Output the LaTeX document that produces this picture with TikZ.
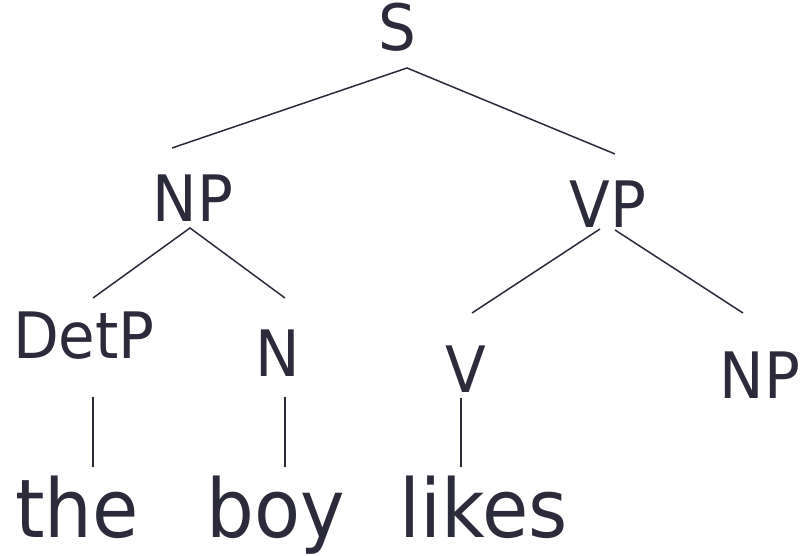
\documentclass[tikz,border=0pt]{standalone}
\usepackage{fontspec}
\newfontfamily\treefont[FakeStretch=0.93]{DejaVu Sans}
\definecolor{ink}{HTML}{2B2B3B}
\begin{document}
\begin{tikzpicture}[x=1pt,y=-1pt,
  cat/.style={anchor=base,inner sep=0pt,text=ink,font=\treefont\fontsize{64}{64}\selectfont},
  word/.style={anchor=base,inner sep=0pt,text=ink,font=\treefont\fontsize{81}{81}\selectfont},
  branch/.style={draw=ink,line width=1.5pt}]
\useasboundingbox (0,0) rectangle (804,556);
\node[cat] (S) at (397,51) {S};
\node[cat] (NP) at (193,222) {NP};
\node[cat] (VP) at (608,228) {VP};
\node[cat] (DetP) at (84,359) {DetP};
\node[cat] (N) at (278,377) {N};
\node[cat] (V) at (466,392) {V};
\node[cat] (NPb) at (760,398) {NP};
\node[word] (the) at (77,537) {the};
\node[word] (boy) at (276,537) {boy};
\node[word] (likes) at (484,537) {likes};
% connector end points
\coordinate (Sb) at (407,68);
\coordinate (NPt) at (172,148);
\coordinate (VPt) at (615,154);
\coordinate (NPbL) at (190,228);
\coordinate (DetPt) at (93,298);
\coordinate (Nt) at (285,298);
\coordinate (VPbL) at (600,229);
\coordinate (VPbR) at (615,230);
\coordinate (Vt) at (472,313);
\coordinate (NPbt) at (743,313);
\coordinate (DetPb) at (93,397);
\coordinate (thet) at (93,467);
\coordinate (Nb) at (285,397);
\coordinate (boyt) at (285,467);
\coordinate (Vb) at (461,398);
\coordinate (likest) at (461,467);
\draw[branch] (NPt) -- (Sb) -- (VPt);
\draw[branch] (DetPt) -- (NPbL) -- (Nt);
\draw[branch] (Vt) -- (VPbL);
\draw[branch] (VPbR) -- (NPbt);
\draw[branch] (DetPb) -- (thet);
\draw[branch] (Nb) -- (boyt);
\draw[branch] (Vb) -- (likest);
\end{tikzpicture}
\end{document}
